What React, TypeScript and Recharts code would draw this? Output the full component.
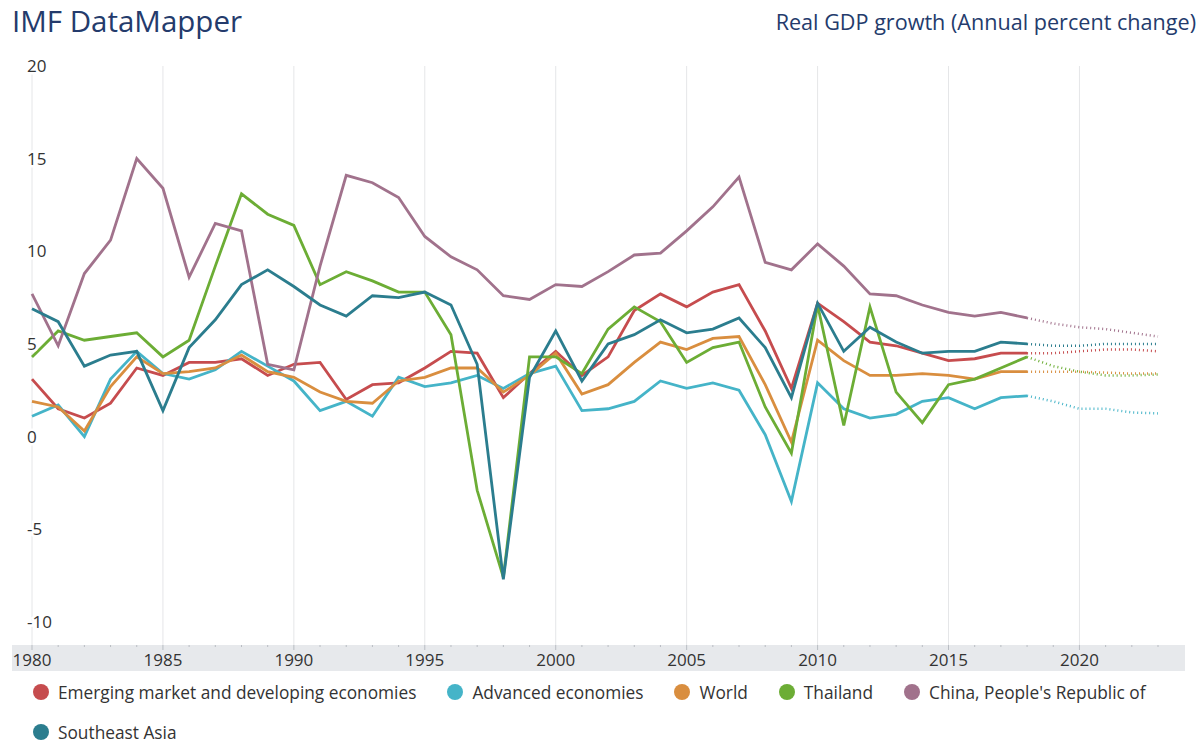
import { LineChart, Line, XAxis, YAxis, ReferenceLine } from 'recharts'

const years = Array.from({ length: 44 }, (_, i) => 1980 + i)
const gridYears = [1980, 1985, 1990, 1995, 2000, 2005, 2010, 2015, 2020]
const yTicks = [-10, -5, 0, 5, 10, 15, 20]

// 1980 - 2018
const emde = [3.1, 1.5, 1.0, 1.8, 3.7, 3.3, 4.0, 4.0, 4.2, 3.3, 3.9, 4.0, 2.0, 2.8, 2.9, 3.7, 4.6, 4.5, 2.1, 3.4, 4.6, 3.3, 4.3, 6.8, 7.7, 7.0, 7.8, 8.2, 5.7, 2.6, 7.2, 6.2, 5.1, 4.9, 4.5, 4.1, 4.2, 4.5, 4.5]
const advanced = [1.1, 1.7, 0.0, 3.1, 4.6, 3.4, 3.1, 3.6, 4.6, 3.8, 3.0, 1.4, 1.9, 1.1, 3.2, 2.7, 2.9, 3.3, 2.6, 3.4, 3.8, 1.4, 1.5, 1.9, 3.0, 2.6, 2.9, 2.5, 0.1, -3.5, 2.9, 1.5, 1.0, 1.2, 1.9, 2.1, 1.5, 2.1, 2.2]
const world = [1.9, 1.6, 0.3, 2.7, 4.3, 3.4, 3.5, 3.7, 4.4, 3.5, 3.2, 2.4, 1.9, 1.8, 3.0, 3.2, 3.7, 3.7, 2.4, 3.3, 4.5, 2.3, 2.8, 4.0, 5.1, 4.7, 5.3, 5.4, 2.8, -0.3, 5.2, 4.1, 3.3, 3.3, 3.4, 3.3, 3.1, 3.5, 3.5]
const thailand = [4.3, 5.7, 5.2, 5.4, 5.6, 4.3, 5.2, 9.2, 13.1, 12.0, 11.4, 8.2, 8.9, 8.4, 7.8, 7.8, 5.5, -2.9, -7.6, 4.3, 4.3, 3.4, 5.8, 7.0, 6.2, 4.0, 4.8, 5.1, 1.6, -0.9, 7.1, 0.6, 7.0, 2.4, 0.75, 2.8, 3.1, 3.7, 4.3]
const china = [7.7, 4.9, 8.8, 10.6, 15.0, 13.4, 8.6, 11.5, 11.1, 3.9, 3.6, 9.2, 14.1, 13.7, 12.9, 10.8, 9.7, 9.0, 7.6, 7.4, 8.2, 8.1, 8.9, 9.8, 9.9, 11.1, 12.4, 14.0, 9.4, 9.0, 10.4, 9.2, 7.7, 7.6, 7.1, 6.7, 6.5, 6.7, 6.4]
const seAsia = [6.9, 6.2, 3.8, 4.4, 4.6, 1.4, 4.8, 6.3, 8.2, 9.0, 8.1, 7.1, 6.5, 7.6, 7.5, 7.8, 7.1, 3.9, -7.7, 3.2, 5.7, 3.0, 5.0, 5.5, 6.3, 5.6, 5.8, 6.4, 4.8, 2.1, 7.2, 4.6, 5.9, 5.1, 4.5, 4.6, 4.6, 5.1, 5.0]

// projections 2018 - 2023
const projStart = 2018
const emdeProj = [4.5, 4.5, 4.6, 4.7, 4.7, 4.6]
const advancedProj = [2.2, 1.9, 1.5, 1.5, 1.3, 1.25]
const worldProj = [3.5, 3.5, 3.5, 3.45, 3.4, 3.4]
const thailandProj = [4.3, 3.8, 3.5, 3.3, 3.3, 3.35]
const chinaProj = [6.4, 6.1, 5.9, 5.8, 5.6, 5.4]
const seAsiaProj = [5.0, 4.9, 4.9, 5.0, 5.0, 5.0]

const series = [
  { key: 'emde', name: 'Emerging market and developing economies', color: '#c64c4e', actual: emde, proj: emdeProj },
  { key: 'adv', name: 'Advanced economies', color: '#45b4c8', actual: advanced, proj: advancedProj },
  { key: 'world', name: 'World', color: '#d98e3f', actual: world, proj: worldProj },
  { key: 'tha', name: 'Thailand', color: '#6cad35', actual: thailand, proj: thailandProj },
  { key: 'chn', name: "China, People's Republic of", color: '#a1728c', actual: china, proj: chinaProj },
  { key: 'sea', name: 'Southeast Asia', color: '#2b7d8e', actual: seAsia, proj: seAsiaProj },
]

const data = years.filter((y) => y <= 2023).map((year, i) => {
  const row: Record<string, number | undefined> = { year }
  series.forEach((s) => {
    row[s.key] = s.actual[i]
    const p = year - projStart
    row[s.key + 'P'] = p >= 0 ? s.proj[p] : undefined
  })
  return row
})

const font = '"Open Sans", sans-serif'

function YearTick({ x, y, payload }: any) {
  const yr = payload.value
  const major = yr % 5 === 0
  return (
    <g>
      <line x1={x} x2={x} y1={y} y2={y + (major ? 5 : 2)} stroke="#b9bdc3" />
      {major && (
        <text x={x} y={y} dy={21} textAnchor="middle" fontSize={17} fill="#333" fontFamily={font}>
          {yr}
        </text>
      )}
    </g>
  )
}

function ValueTick({ x, y, payload }: any) {
  return (
    <text
      x={x - 5}
      y={y}
      dy="0.35em"
      textAnchor="start"
      fontSize={17}
      fill="#333"
      fontFamily={font}
      stroke="#fff"
      strokeWidth={5}
      paintOrder="stroke"
    >
      {payload.value}
    </text>
  )
}

export default function App() {
  return (
    <div style={{ position: 'absolute', left: 0, top: 0, width: 1201, height: 744, background: '#fff', fontFamily: font, overflow: 'hidden' }}>
      <div style={{ position: 'absolute', left: 12, top: 6, fontSize: 29.5, lineHeight: '30px', color: '#243b6c' }}>IMF DataMapper</div>
      <div style={{ position: 'absolute', right: 5, top: 11, fontSize: 21.6, lineHeight: '22px', color: '#243b6c' }}>
        Real GDP growth (Annual percent change)
      </div>
      <div style={{ position: 'absolute', left: 12, top: 645, width: 1173, height: 26, background: '#e7e9ec' }} />
      <div style={{ position: 'absolute', left: 0, top: 0 }}>
        <LineChart width={1201} height={680} data={data} margin={{ top: 66, right: 43, bottom: 9, left: 0 }}>
          <XAxis
            dataKey="year"
            type="number"
            domain={[1980, 2023]}
            ticks={years.filter((y) => y <= 2023)}
            interval={0}
            height={26}
            tickSize={0}
            tickMargin={0}
            axisLine={false}
            tickLine={false}
            tick={<YearTick />}
          />
          <YAxis
            type="number"
            domain={[-11.25, 20]}
            ticks={yTicks}
            interval={0}
            width={32}
            tickSize={0}
            tickMargin={0}
            axisLine={false}
            tickLine={false}
            tick={<ValueTick />}
            allowDataOverflow
          />
          {gridYears.map((g) => (
            <ReferenceLine key={g} x={g} stroke="#e5e6e8" strokeWidth={1} />
          ))}
          {series.map((s) => (
            <Line
              key={s.key + 'P'}
              dataKey={s.key + 'P'}
              stroke={s.color}
              strokeWidth={2.5}
              strokeDasharray="1 3"
              dot={false}
              activeDot={false}
              isAnimationActive={false}
            />
          ))}
          {series.map((s) => (
            <Line
              key={s.key}
              dataKey={s.key}
              stroke={s.color}
              strokeWidth={2.8}
              dot={false}
              activeDot={false}
              isAnimationActive={false}
            />
          ))}
        </LineChart>
      </div>
      <div style={{ position: 'absolute', left: 33, top: 672, width: 1160, display: 'flex', flexWrap: 'wrap', columnGap: 31 }}>
        {series.map((s) => (
          <div key={s.key} style={{ display: 'flex', alignItems: 'center', height: 40 }}>
            <span style={{ width: 16, height: 16, borderRadius: 8, background: s.color, marginRight: 9 }} />
            <span style={{ fontSize: 17.3, color: '#333' }}>{s.name}</span>
          </div>
        ))}
      </div>
    </div>
  )
}
